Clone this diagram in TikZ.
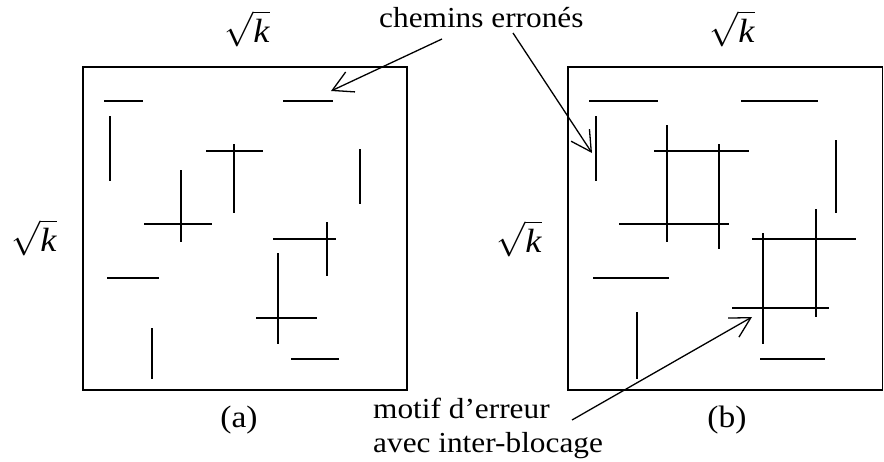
\documentclass[tikz,border=0pt]{standalone}
\usepackage{fontspec}
\setmainfont{Liberation Serif}[FakeStretch=1.08]
\usetikzlibrary{arrows.meta}

\begin{document}
\begin{tikzpicture}[
    x=1pt, y=-1pt,
    frame/.style={draw, line width=1.8pt},
    seg/.style={line width=1.6pt},
    lbl/.style={inner sep=0pt, font=\fontsize{29}{34}\selectfont},
    side/.style={inner sep=0pt, anchor=base, font=\fontsize{24}{28}\selectfont},
    sub/.style={inner sep=0pt, font=\fontsize{31}{36}\selectfont},
    pointer/.style={
        -{Straight Barb[length=20pt,width=22pt,line width=1.3pt]},
        line width=1.3pt
    }
]
\useasboundingbox (0,0) rectangle (884,461);

% the two squares
\draw[frame] (83,67) rectangle (407,390);
\draw[frame] (568,67) rectangle (882.5,390);

% side lengths
\node[side] (ka) at (247,42) {\scalebox{1.4}{$\sqrt{\textit{k}}$}};
\node[side] (kal) at (34,251) {\scalebox{1.4}{$\sqrt{\textit{k}}$}};
\node[side] (kb) at (732,42) {\scalebox{1.4}{$\sqrt{\textit{k}}$}};
\node[side] (kbl) at (519,252) {\scalebox{1.4}{$\sqrt{\textit{k}}$}};

% paths, case (a)
\foreach \xa/\ya/\xb/\yb in {
    104/101/143/101, 283/101/333/101, 206/151/263/151, 144/224/212/224,
    273/239/336/239, 107/278/159/278, 256/318/317/318, 291/359/339/359,
    110/116/110/181, 234/144/234/213, 360/149/360/204, 181/170/181/242,
    327/222/327/276, 278/253/278/344, 152/328/152/379}
    \draw[seg] (\xa,\ya) -- (\xb,\yb);

% paths, case (b)
\foreach \xa/\ya/\xb/\yb in {
    589/101/658/101, 741/101/818/101, 654/151/749/151, 619/224/729/224,
    752/239/856/239, 593/278/669/278, 732/308/829/308, 760/359/825/359,
    596/116/596/181, 667/125/667/242, 719/144/719/249, 836/140/836/213,
    816/209/816/317, 763/233/763/344, 637/312/637/379}
    \draw[seg] (\xa,\ya) -- (\xb,\yb);

% captions
\node[sub] (capa) at (239,420) {(a)};
\node[sub] (capb) at (727,420) {(b)};

\node[lbl, anchor=base west] (chemins) at (379,27) {chemins erronés};
\node[lbl, anchor=base west, align=left] (motif) at (373,452)
    {motif d’erreur\\avec inter-blocage};

\coordinate (erra) at (331,91);
\coordinate (errb) at (592,153);
\coordinate (lock) at (752,317);

\draw[pointer] ([xshift=63pt,yshift=-12pt]chemins.base west) -- (erra);
\draw[pointer] ([xshift=134pt,yshift=-6pt]chemins.base west) -- (errb);
\draw[pointer] ([xshift=199pt,yshift=32pt]motif.base west) -- (lock);

\end{tikzpicture}
\end{document}
